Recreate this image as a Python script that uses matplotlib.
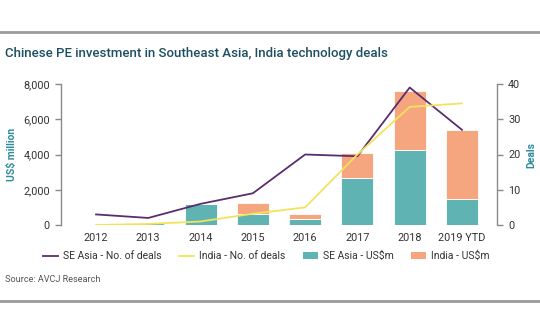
import matplotlib
matplotlib.use("Agg")
import matplotlib.pyplot as plt
from matplotlib.lines import Line2D
from matplotlib.patches import Patch
import numpy as np

plt.rcParams['font.family'] = ['Roboto', 'DejaVu Sans']

years = ["2012", "2013", "2014", "2015", "2016", "2017", "2018", "2019 YTD"]
sea_usd = [0, 100, 1200, 650, 340, 2650, 4250, 1450]
india_usd = [0, 0, 0, 620, 280, 1450, 3350, 3950]
sea_deals = [3, 2, 6, 9, 20, 19.5, 39, 27]
india_deals = [0, 0.3, 1, 3.2, 5, 20, 33.5, 34.5]
left_ticks = [0, 2000, 4000, 6000, 8000]
right_ticks = [0, 10, 20, 30, 40]

c_teal = "#5fb3b3"
c_orange = "#f5a67f"
c_purple = "#5c2d6e"
c_yellow = "#f3e35c"
c_title = "#1d4f63"
c_axlab = "#2e8c9c"
c_tick = "#333333"
c_spine = "#8a8a8a"

W, H = 540, 334
fig = plt.figure(figsize=(W / 100, H / 100), dpi=100)

ax = fig.add_axes([61 / W, (H - 225) / H, 436 / W, 141 / H])
x = np.arange(len(years))
ax.bar(x, sea_usd, width=0.61, color=c_teal, edgecolor="white", linewidth=0.6, zorder=2)
ax.bar(x, india_usd, bottom=sea_usd, width=0.61, color=c_orange, edgecolor="white", linewidth=0.6, zorder=2)
ax.set_ylim(0, 8000)
ax.set_xlim(-0.67, 7.67)
ax.set_yticks(left_ticks)
ax.set_yticklabels([f"{v:,}" for v in left_ticks])
ax.set_xticks(x)
ax.set_xticklabels(years)
for s in ["top", "right", "bottom"]:
    ax.spines[s].set_visible(False)
ax.spines["left"].set_color(c_spine)
ax.spines["left"].set_linewidth(1.0)
ax.tick_params(axis="y", colors=c_spine, labelcolor=c_tick, length=4, width=1, labelsize=7.8, pad=4)
ax.tick_params(axis="x", length=0, labelcolor=c_tick, labelsize=7.8, pad=6)
ax.set_ylabel("US$ million", color=c_axlab, fontsize=7.5, fontweight="bold")
ax.yaxis.set_label_coords(-44 / 436, 0.5)

ax2 = ax.twinx()
ax2.plot(x, sea_deals, color=c_purple, lw=1.3, zorder=3)
ax2.plot(x, india_deals, color=c_yellow, lw=1.3, zorder=3)
ax2.set_ylim(0, 40)
ax2.set_yticks(right_ticks)
for s in ["top", "left", "bottom"]:
    ax2.spines[s].set_visible(False)
ax2.spines["right"].set_color(c_spine)
ax2.spines["right"].set_linewidth(1.0)
ax2.tick_params(axis="y", colors=c_spine, labelcolor=c_tick, length=4, width=1, labelsize=7.8, pad=4)
ax2.set_ylabel("Deals", color=c_axlab, fontsize=7.5, fontweight="bold", rotation=90)
ax2.yaxis.set_label_coords(1 + 29 / 436, 0.5)

fig.text(5 / W, 1 - 54 / H, "Chinese PE investment in Southeast Asia, India technology deals",
         color=c_title, fontsize=9.5, va="center", ha="left", fontweight="medium")
fig.text(5 / W, 1 - 280 / H, "Source: AVCJ Research", color="#555555", fontsize=6.6, va="center", ha="left")

fig.add_artist(Line2D([0, 1], [1 - 32 / H, 1 - 32 / H], color="#9a9a9a", lw=2, transform=fig.transFigure))
fig.add_artist(Line2D([0, 1], [1 - 301 / H, 1 - 301 / H], color="#9a9a9a", lw=2, transform=fig.transFigure))

handles = [
    Line2D([], [], color=c_purple, lw=1.3),
    Line2D([], [], color=c_yellow, lw=1.3),
    Patch(facecolor=c_teal),
    Patch(facecolor=c_orange),
]
labels = ["SE Asia - No. of deals", "India - No. of deals", "SE Asia - US$m", "India - US$m"]
fig.legend(handles, labels, loc="center", bbox_to_anchor=(0.4935, 1 - 256 / H), ncol=4, frameon=False,
           fontsize=7.5, handlelength=1.4, handleheight=0.55, columnspacing=1.7, handletextpad=0.5,
           labelcolor=c_tick)

fig.savefig("out.png", dpi=100, facecolor="white")
